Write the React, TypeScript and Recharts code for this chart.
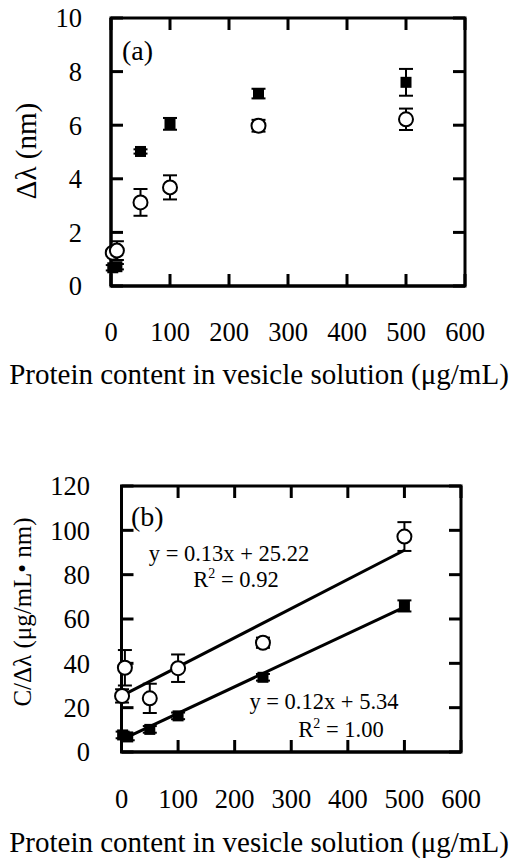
import React from 'react';
import { ScatterChart, Scatter, XAxis, YAxis, ErrorBar } from 'recharts';

// ---- tick labels ----
const xTicks = [0, 100, 200, 300, 400, 500, 600];
const yTicksA = [0, 2, 4, 6, 8, 10];
const yTicksB = [0, 20, 40, 60, 80, 100, 120];

// ---- panel (a): wavelength shift ----
const concASquare = [3, 10, 50, 100, 250, 500];
const shiftASquare = [0.68, 0.72, 5.02, 6.05, 7.18, 7.6];
const errASquare = [0.1, 0.1, 0.08, 0.22, 0.18, 0.5];

const concACircle = [3, 10, 50, 100, 250, 500];
const shiftACircle = [1.24, 1.32, 3.12, 3.68, 5.98, 6.22];
const errACircle = [0.12, 0.35, 0.5, 0.45, 0.22, 0.4];

// ---- panel (b): C / shift ----
const concBSquare = [2, 11, 50, 100, 250, 500];
const ratioBSquare = [7.7, 6.8, 10.2, 16.3, 33.7, 65.9];
const errBSquare = [1.5, 1.5, 1.5, 1.5, 1.5, 2.5];

const concBCircle = [1, 6, 50, 100, 250, 500];
const ratioBCircle = [25.3, 38, 24.2, 37.8, 49.3, 97.2];
const errBCircle = [3, 8, 6.6, 6.2, 2.3, 6.5];

// fitted lines (end points)
const fitUpperX = [1, 500];
const fitUpperY = [25.4, 91];
const fitLowerX = [12, 500];
const fitLowerY = [6.9, 65.4];

const domainX = [0, 600];
const domainA = [0, 10];
const domainB = [0, 120];

const zip = (xs: number[], ys: number[], es?: number[]) =>
  xs.map((x, i) => ({ x, y: ys[i], err: es ? es[i] : 0 }));

const dataASquare = zip(concASquare, shiftASquare, errASquare);
const dataACircle = zip(concACircle, shiftACircle, errACircle);
const dataBSquare = zip(concBSquare, ratioBSquare, errBSquare);
const dataBCircle = zip(concBCircle, ratioBCircle, errBCircle);
const dataFitUpper = zip(fitUpperX, fitUpperY);
const dataFitLower = zip(fitLowerX, fitLowerY);

// frame corners and tick anchor points, built from the axis domains / ticks
const frameOf = (dy: number[]) => [
  { x: domainX[0], y: dy[0] },
  { x: domainX[1], y: dy[0] },
  { x: domainX[1], y: dy[1] },
  { x: domainX[0], y: dy[1] },
  { x: domainX[0], y: dy[0] },
];
const ticksOf = (yt: number[], dy: number[]) => ({
  bottom: xTicks.map((x) => ({ x, y: dy[0] })),
  top: xTicks.map((x) => ({ x, y: dy[1] })),
  left: yt.map((y) => ({ x: domainX[0], y })),
  right: yt.map((y) => ({ x: domainX[1], y })),
});
const frameA = frameOf(domainA);
const frameB = frameOf(domainB);
const tickPtsA = ticksOf(yTicksA, domainA);
const tickPtsB = ticksOf(yTicksB, domainB);

const FONT = 'Liberation Serif';
const TICK_LEN = 12;
const OFF = 8; // default tickSize 6 + tickMargin 2

const marginA = { top: 18, right: 44, bottom: 0, left: 0 };
const marginB = { top: 86, right: 48, bottom: 0, left: 0 };
const frameLine = { stroke: '#000', strokeWidth: 3, strokeLinecap: 'square', fill: 'none' };
const fitLine = { stroke: '#000', strokeWidth: 3 };

function Square(p: any) {
  return <rect x={p.cx - 5.5} y={p.cy - 5.5} width={11} height={11} fill="#000" />;
}
function Ring(p: any) {
  return <circle cx={p.cx} cy={p.cy} r={7} fill="#fff" stroke="#000" strokeWidth={2} />;
}
function NoDot() {
  return <g />;
}
function TickUp(p: any) {
  return <line x1={p.cx} x2={p.cx} y1={p.cy} y2={p.cy - TICK_LEN} stroke="#000" strokeWidth={3} />;
}
function TickDown(p: any) {
  return <line x1={p.cx} x2={p.cx} y1={p.cy} y2={p.cy + TICK_LEN} stroke="#000" strokeWidth={3} />;
}
function TickRight(p: any) {
  return <line x1={p.cx} x2={p.cx + TICK_LEN} y1={p.cy} y2={p.cy} stroke="#000" strokeWidth={3} />;
}
function TickLeft(p: any) {
  return <line x1={p.cx} x2={p.cx - TICK_LEN} y1={p.cy} y2={p.cy} stroke="#000" strokeWidth={3} />;
}

// tick labels (text only)
const makeBottomLabel = (labelGap: number) => (p: any) => (
  <text x={p.x} y={p.y - OFF + labelGap} dy="0.71em" textAnchor="middle" fontSize={26.5} fontFamily={FONT} fill="#000" stroke="none">
    {p.payload.value}
  </text>
);
const makeLeftLabel = (labelGap: number) => (p: any) => (
  <text x={p.x + OFF - labelGap} y={p.y} dy="0.355em" textAnchor="end" fontSize={26.5} fontFamily={FONT} fill="#000" stroke="none">
    {p.payload.value}
  </text>
);
const bottomLabelA = makeBottomLabel(36);
const bottomLabelB = makeBottomLabel(37);
const leftLabelA = makeLeftLabel(29);
const leftLabelB = makeLeftLabel(31.5);

const XT = 'Protein content in vesicle solution (μg/mL)';

function R2(props: { x: number; y: number; val: string }) {
  return (
    <text x={props.x} y={props.y} textAnchor="middle" fontSize={22.5} fontFamily={FONT} fill="#000">
      <tspan>R</tspan>
      <tspan dy={-9} fontSize={14}>2</tspan>
      <tspan dy={9}>{` = ${props.val}`}</tspan>
    </text>
  );
}

function xTitleA() {
  return (
    <g>
      <text x={259} y={384} textAnchor="middle" fontSize={29} fontFamily={FONT} fill="#000">{XT}</text>
      <text x={122} y={60} fontSize={28} fontFamily={FONT} fill="#000">(a)</text>
    </g>
  );
}
function xTitleB() {
  return (
    <g>
      <text x={259} y={452} textAnchor="middle" fontSize={29} fontFamily={FONT} fill="#000">{XT}</text>
      <text x={131} y={125.5} fontSize={28} fontFamily={FONT} fill="#000">(b)</text>
      <text x={229} y={160.7} textAnchor="middle" fontSize={22.5} fontFamily={FONT} fill="#000">y = 0.13x + 25.22</text>
      <R2 x={236} y={186.7} val="0.92" />
      <text x={324} y={309.3} textAnchor="middle" fontSize={22.5} fontFamily={FONT} fill="#000">y = 0.12x + 5.34</text>
      <R2 x={341} y={336.7} val="1.00" />
    </g>
  );
}
function yTitleA() {
  return (
    <text x={26} y={151} transform="rotate(-90 26 151)" textAnchor="middle" dy="0.35em" fontSize={29} fontFamily={FONT} fill="#000">
      Δλ (nm)
    </text>
  );
}
function yTitleB() {
  return (
    <text x={22} y={212} transform="rotate(-90 22 212)" textAnchor="middle" dy="0.35em" fontSize={25} fontFamily={FONT} fill="#000">
      C/Δλ (μg/mL• nm)
    </text>
  );
}

function FrameAndTicks(props: { frame: any[]; pts: any }) {
  return null;
}

function PanelA() {
  return (
    <ScatterChart width={509} height={400} margin={marginA}>
      <XAxis dataKey="x" type="number" domain={domainX} ticks={xTicks} height={114}
        stroke="#000" strokeWidth={3} tickLine={false} tick={bottomLabelA} label={xTitleA} />
      <YAxis dataKey="y" type="number" domain={domainA} ticks={yTicksA} width={111}
        stroke="#000" strokeWidth={3} tickLine={false} tick={leftLabelA} label={yTitleA} />
      <Scatter data={frameA} shape={NoDot} line={frameLine} isAnimationActive={false} />
      <Scatter data={tickPtsA.bottom} shape={TickUp} isAnimationActive={false} />
      <Scatter data={tickPtsA.top} shape={TickDown} isAnimationActive={false} />
      <Scatter data={tickPtsA.left} shape={TickRight} isAnimationActive={false} />
      <Scatter data={tickPtsA.right} shape={TickLeft} isAnimationActive={false} />
      <Scatter data={dataASquare} shape={Square} isAnimationActive={false}>
        <ErrorBar dataKey="err" direction="y" width={7} stroke="#000" strokeWidth={2} />
      </Scatter>
      <Scatter data={dataACircle} shape={Ring} isAnimationActive={false}>
        <ErrorBar dataKey="err" direction="y" width={7} stroke="#000" strokeWidth={2} />
      </Scatter>
    </ScatterChart>
  );
}

function PanelB() {
  return (
    <ScatterChart width={509} height={462} margin={marginB}>
      <XAxis dataKey="x" type="number" domain={domainX} ticks={xTicks} height={110}
        stroke="#000" strokeWidth={3} tickLine={false} tick={bottomLabelB} label={xTitleB} />
      <YAxis dataKey="y" type="number" domain={domainB} ticks={yTicksB} width={121.5}
        stroke="#000" strokeWidth={3} tickLine={false} tick={leftLabelB} label={yTitleB} />
      <Scatter data={frameB} shape={NoDot} line={frameLine} isAnimationActive={false} />
      <Scatter data={tickPtsB.bottom} shape={TickUp} isAnimationActive={false} />
      <Scatter data={tickPtsB.top} shape={TickDown} isAnimationActive={false} />
      <Scatter data={tickPtsB.left} shape={TickRight} isAnimationActive={false} />
      <Scatter data={tickPtsB.right} shape={TickLeft} isAnimationActive={false} />
      <Scatter data={dataFitUpper} shape={NoDot} line={fitLine} isAnimationActive={false} />
      <Scatter data={dataFitLower} shape={NoDot} line={fitLine} isAnimationActive={false} />
      <Scatter data={dataBSquare} shape={Square} isAnimationActive={false}>
        <ErrorBar dataKey="err" direction="y" width={7} stroke="#000" strokeWidth={2} />
      </Scatter>
      <Scatter data={dataBCircle} shape={Ring} isAnimationActive={false}>
        <ErrorBar dataKey="err" direction="y" width={7} stroke="#000" strokeWidth={2} />
      </Scatter>
    </ScatterChart>
  );
}

export default function App() {
  return (
    <div style={{ position: 'absolute', left: 0, top: 0, width: 509, height: 862, background: '#fff', fontFamily: FONT }}>
      <PanelA />
      <PanelB />
    </div>
  );
}
